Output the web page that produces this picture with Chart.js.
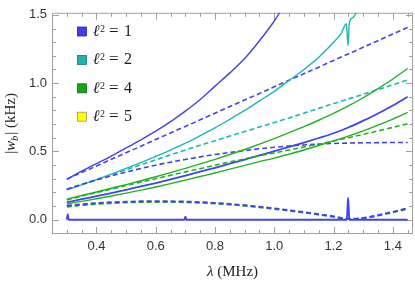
<!DOCTYPE html>
<html lang="en">
<head>
  <meta charset="UTF-8">
  <title>|w_b| vs lambda</title>
  <script src="https://cdn.jsdelivr.net/npm/chart.js"></script>
  <style>
    body { margin: 0; background: #fff; }
    canvas { display: block; }
  </style>
</head>
<body>
  <canvas id="wbChart" width="415" height="284"></canvas>

  <script>
    // lambda grid (MHz) shared by most curves
    const lam = [0.30, 0.35, 0.40, 0.45, 0.50, 0.55, 0.60, 0.65, 0.70, 0.75, 0.80, 0.85,
                 0.90, 0.95, 1.00, 1.05, 1.10, 1.15, 1.20, 1.25, 1.30, 1.35, 1.40, 1.45];

    // l^2 = 1 (blue)
    const lamSteep = [0.30, 0.35, 0.40, 0.45, 0.50, 0.55, 0.60, 0.65, 0.70, 0.75, 0.80, 0.85, 0.90, 0.95, 1.00, 1.05];
    const blueSteep = [0.295, 0.355, 0.41, 0.465, 0.525, 0.585, 0.648, 0.718, 0.795, 0.88, 0.978, 1.075, 1.18, 1.31, 1.455, 1.63];
    const blueDashUpper = [0.297, 0.345, 0.393, 0.442, 0.490, 0.538, 0.587, 0.635, 0.683, 0.731, 0.780, 0.828,
                           0.876, 0.924, 0.973, 1.021, 1.069, 1.117, 1.166, 1.214, 1.262, 1.311, 1.359, 1.407];
    const blueDashMid = [0.222, 0.258, 0.29, 0.32, 0.348, 0.375, 0.399, 0.421, 0.441, 0.46, 0.477, 0.492,
                         0.506, 0.519, 0.53, 0.539, 0.547, 0.553, 0.558, 0.561, 0.563, 0.564, 0.565, 0.565];
    const blueLower = [0.126, 0.15, 0.172, 0.195, 0.219, 0.243, 0.268, 0.295, 0.323, 0.352, 0.38, 0.41,
                       0.44, 0.47, 0.502, 0.533, 0.565, 0.598, 0.633, 0.675, 0.725, 0.778, 0.836, 0.9];
    const blueDashBottom = [0.102, 0.113, 0.121, 0.127, 0.131, 0.134, 0.135, 0.134, 0.132, 0.128, 0.122, 0.114,
                            0.105, 0.094, 0.082, 0.069, 0.055, 0.04, 0.024, 0.006, 0.013, 0.033, 0.057, 0.084];
    const lamZero = [0.30, 0.303, 0.306, 0.697, 0.70, 0.703, 1.245, 1.249, 1.253, 1.45];
    const blueZero = [0, 0.038, 0, 0, 0.022, 0, 0, 0.16, 0, 0];

    // l^2 = 2 (cyan)
    const lamCyan = [0.30, 0.35, 0.40, 0.45, 0.50, 0.55, 0.60, 0.65, 0.70, 0.75, 0.80, 0.85, 0.90, 0.95,
                     1.00, 1.05, 1.10, 1.15, 1.20, 1.225, 1.243, 1.249, 1.253, 1.265, 1.285];
    const cyanSolid = [0.218, 0.255, 0.293, 0.333, 0.375, 0.418, 0.463, 0.51, 0.56, 0.615, 0.672, 0.735, 0.80, 0.87,
                       0.94, 1.02, 1.10, 1.19, 1.30, 1.36, 1.435, 1.275, 1.44, 1.48, 1.55];
    const cyanDash = [0.222, 0.258, 0.294, 0.33, 0.366, 0.402, 0.438, 0.474, 0.51, 0.545, 0.578, 0.612,
                      0.645, 0.678, 0.711, 0.745, 0.78, 0.815, 0.85, 0.884, 0.918, 0.953, 0.988, 1.023];

    // l^2 = 4 (green)
    const greenUpper = [0.15, 0.177, 0.203, 0.23, 0.257, 0.285, 0.314, 0.344, 0.376, 0.409, 0.442, 0.477,
                        0.514, 0.553, 0.594, 0.637, 0.681, 0.728, 0.778, 0.833, 0.893, 0.96, 1.03, 1.107];
    const greenLower = [0.114, 0.134, 0.153, 0.173, 0.194, 0.216, 0.239, 0.264, 0.29, 0.316, 0.342, 0.37,
                        0.398, 0.425, 0.451, 0.48, 0.51, 0.543, 0.577, 0.612, 0.65, 0.692, 0.737, 0.786];
    const greenDash = [0.145, 0.172, 0.198, 0.224, 0.25, 0.275, 0.30, 0.325, 0.35, 0.374, 0.398, 0.422,
                       0.445, 0.468, 0.489, 0.51, 0.532, 0.554, 0.577, 0.60, 0.625, 0.65, 0.676, 0.702];
    const greenDashBottom = [0.094, 0.106, 0.115, 0.121, 0.126, 0.129, 0.13, 0.13, 0.128, 0.124, 0.118, 0.111,
                             0.102, 0.091, 0.079, 0.066, 0.052, 0.037, 0.021, 0.004, 0.01, 0.03, 0.054, 0.08];

    // axes
    const xTickLabels = [0.4, 0.6, 0.8, 1.0, 1.2, 1.4];
    const yTickLabels = [0.0, 0.5, 1.0, 1.5];

    // legend
    const legendValues = ['1', '2', '4', '5'];
    const legendFill = ['rgb(62,62,238)', 'rgb(32,176,176)', 'rgb(22,165,22)', 'rgb(255,255,0)'];
    const legendEdge = ['rgb(40,40,160)', 'rgb(20,120,120)', 'rgb(15,110,15)', 'rgb(150,150,90)'];

    const BLUE = 'rgb(66,66,240)';
    const CYAN = 'rgb(30,182,182)';
    const GREEN = 'rgb(34,178,34)';
    const SERIF = '"Liberation Serif", "DejaVu Serif", serif';

    function pts(xs, ys) {
      return ys.map((v, i) => ({ x: xs[i], y: v }));
    }

    function curve(xs, ys, color, dashed, width) {
      return {
        data: pts(xs, ys),
        showLine: true,
        borderColor: color,
        borderWidth: width,
        borderDash: dashed ? [5, 3] : [],
        pointRadius: 0,
        cubicInterpolationMode: 'monotone',
        fill: false
      };
    }

    // frame, inward ticks, axis titles and legend (Mathematica style)
    const frameTicks = {
      id: 'frameTicks',
      beforeDatasetsDraw(chart) {
        const { ctx, chartArea: a, scales: { x, y } } = chart;
        ctx.save();
        ctx.strokeStyle = '#a0a0a0';
        ctx.lineWidth = 1;
        ctx.strokeRect(a.left + 0.5, a.top + 0.5, a.right - a.left - 1, a.bottom - a.top - 1);
        ctx.beginPath();
        for (let i = 6; i <= 29; i++) {
          const px = Math.round(x.getPixelForValue(i * 0.05)) + 0.5;
          const len = i % 4 === 0 ? 7 : 4;
          ctx.moveTo(px, a.bottom); ctx.lineTo(px, a.bottom - len);
          ctx.moveTo(px, a.top); ctx.lineTo(px, a.top + len);
        }
        for (let j = -1; j <= 15; j++) {
          const py = Math.round(y.getPixelForValue(j * 0.1)) + 0.5;
          const len = j % 5 === 0 ? 7 : 4;
          ctx.moveTo(a.left, py); ctx.lineTo(a.left + len, py);
          ctx.moveTo(a.right, py); ctx.lineTo(a.right - len, py);
        }
        ctx.stroke();
        ctx.restore();
      },
      afterDraw(chart) {
        const { ctx, chartArea: a } = chart;
        ctx.save();
        ctx.fillStyle = '#222';
        ctx.textBaseline = 'alphabetic';
        ctx.textAlign = 'left';

        // x title: λ (MHz)
        const fx = '15px ' + SERIF, fxi = 'italic 15px ' + SERIF;
        ctx.font = fxi; const wl = ctx.measureText('λ').width;
        ctx.font = fx; const wr = ctx.measureText(' (MHz)').width;
        let sx = (a.left + a.right) / 2 - (wl + wr) / 2;
        ctx.font = fxi; ctx.fillText('λ', sx, 276);
        ctx.font = fx; ctx.fillText(' (MHz)', sx + wl, 276);

        // y title: |w_b| (kHz)
        ctx.save();
        ctx.translate(15, (a.top + a.bottom) / 2);
        ctx.rotate(-Math.PI / 2);
        const fs = 'italic 10px ' + SERIF;
        const parts = [['|', fx, 0], ['w', fxi, 0], ['b', fs, 3], ['|', fx, 0], [' (kHz)', fx, 0]];
        let total = 0;
        parts.forEach(p => { ctx.font = p[1]; total += ctx.measureText(p[0]).width + (p[0] === 'b' ? 1 : 0); });
        let tx = -total / 2;
        parts.forEach(p => {
          ctx.font = p[1];
          ctx.fillText(p[0], tx, p[2]);
          tx += ctx.measureText(p[0]).width + (p[0] === 'b' ? 1 : 0);
        });
        ctx.restore();

        // legend
        legendValues.forEach((val, i) => {
          const cy = 31.5 + i * 28.4;
          ctx.fillStyle = legendFill[i];
          ctx.fillRect(77.5, cy - 4.5, 9, 9);
          ctx.strokeStyle = legendEdge[i];
          ctx.lineWidth = 0.8;
          ctx.strokeRect(77.5, cy - 4.5, 9, 9);
          ctx.fillStyle = '#1a1a1a';
          ctx.font = 'italic 16px ' + SERIF;
          ctx.textAlign = 'right';
          ctx.fillText('ℓ', 99.5, cy + 4.5);
          ctx.textAlign = 'left';
          ctx.font = '10px ' + SERIF;
          ctx.fillText('2', 100, cy + 0.5);
          ctx.font = '17px ' + SERIF;
          ctx.fillText('=', 109, cy + 4.5);
          ctx.font = '16px ' + SERIF;
          ctx.fillText(val, 124, cy + 4.5);
        });
        ctx.restore();
      }
    };

    const tickFont = { family: '"Liberation Sans", Arial, sans-serif', size: 13 };

    new Chart(document.getElementById('wbChart').getContext('2d'), {
      type: 'scatter',
      data: {
        datasets: [
          curve(lamZero, blueZero, BLUE, false, 2),
          curve(lam, blueDashBottom, BLUE, true, 2),
          curve(lam, greenDashBottom, GREEN, true, 2),
          curve(lam, greenLower, GREEN, false, 1.4),
          curve(lam, greenDash, GREEN, true, 1.6),
          curve(lam, blueLower, BLUE, false, 1.8),
          curve(lam, greenUpper, GREEN, false, 1.4),
          curve(lam, blueDashMid, BLUE, true, 1.6),
          curve(lam, cyanDash, CYAN, true, 1.6),
          curve(lamCyan, cyanSolid, CYAN, false, 1.4),
          curve(lam, blueDashUpper, BLUE, true, 1.6),
          curve(lamSteep, blueSteep, BLUE, false, 1.4)
        ]
      },
      options: {
        responsive: false,
        animation: false,
        layout: { padding: { top: 8, right: 2, left: 0, bottom: 0 } },
        plugins: { legend: { display: false }, tooltip: { enabled: false } },
        scales: {
          x: {
            type: 'linear',
            min: 0.25,
            max: 1.468,
            afterFit(s) { s.height = 50; },
            afterBuildTicks(s) { s.ticks = xTickLabels.map(v => ({ value: v })); },
            grid: { display: false, drawTicks: false },
            border: { display: false },
            ticks: { padding: 5, color: '#333', font: tickFont, maxRotation: 0, autoSkip: false,
                     callback: v => Number(v).toFixed(1) }
          },
          y: {
            type: 'linear',
            min: -0.105,
            max: 1.515,
            afterFit(s) { s.width = 52; },
            afterBuildTicks(s) { s.ticks = yTickLabels.map(v => ({ value: v })); },
            grid: { display: false, drawTicks: false },
            border: { display: false },
            ticks: { padding: 5, color: '#333', font: tickFont, autoSkip: false,
                     callback: v => Number(v).toFixed(1) }
          }
        }
      },
      plugins: [frameTicks]
    });
  </script>
</body>
</html>
